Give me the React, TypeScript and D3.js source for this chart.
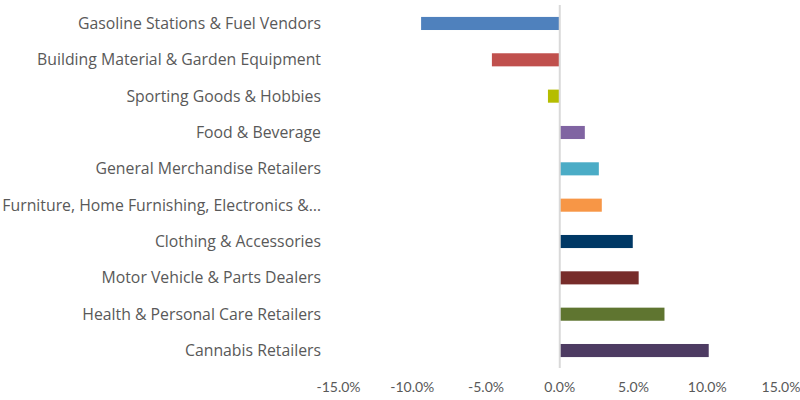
import React from "react";
import * as d3 from "d3";

const categories = [
  "Gasoline Stations & Fuel Vendors",
  "Building Material & Garden Equipment",
  "Sporting Goods & Hobbies",
  "Food & Beverage",
  "General Merchandise Retailers",
  "Furniture, Home Furnishing, Electronics &…",
  "Clothing & Accessories",
  "Motor Vehicle & Parts Dealers",
  "Health & Personal Care Retailers",
  "Cannabis Retailers",
];
const values = [-9.4, -4.6, -0.8, 1.7, 2.65, 2.85, 4.95, 5.35, 7.1, 10.1];
const colors = [
  "#4f81bd",
  "#c0504d",
  "#b5bd00",
  "#8064a2",
  "#4bacc6",
  "#f79646",
  "#003865",
  "#772c2a",
  "#5f7530",
  "#4d3b62",
];
const ticks = [-15, -10, -5, 0, 5, 10, 15];

export default function App() {
  const width = 800;
  const height = 400;
  const x = d3.scaleLinear().domain([-15, 15]).range([338.5, 781]);
  const y = d3
    .scaleBand<string>()
    .domain(categories)
    .range([5.3, 368.7])
    .paddingInner(0.64)
    .paddingOuter(0.32);
  const fmt = (v: number) => d3.format(".1f")(v).replace("\u2212", "-") + "%";
  const labelFont = "'Open Sans', sans-serif";
  const tickFont = "Lato, sans-serif";
  return (
    <svg
      width={width}
      height={height}
      style={{ position: "absolute", left: 0, top: 0, background: "#fff" }}
    >
      {categories.map((c, i) => {
        const v = values[i];
        const x0 = x(Math.min(0, v));
        const x1 = x(Math.max(0, v));
        return (
          <rect
            key={c}
            x={x0}
            y={y(c)!}
            width={x1 - x0}
            height={y.bandwidth()}
            fill={colors[i]}
          />
        );
      })}
      <line
        x1={x(0)}
        x2={x(0)}
        y1={5}
        y2={368}
        stroke="#d9d9d9"
        strokeWidth={2}
      />
      {categories.map((c) => (
        <text
          key={"l" + c}
          x={321}
          y={y(c)! + y.bandwidth() / 2}
          dy="0.35em"
          textAnchor="end"
          fontFamily={labelFont}
          fontSize={15.8}
          fill="#595959"
        >
          {c}
        </text>
      ))}
      {ticks.map((t) => (
        <text
          key={"t" + t}
          x={x(t)}
          y={387}
          dy="0.35em"
          textAnchor="middle"
          fontFamily={tickFont}
          fontSize={14}
          fill="#595959"
        >
          {fmt(t)}
        </text>
      ))}
    </svg>
  );
}
